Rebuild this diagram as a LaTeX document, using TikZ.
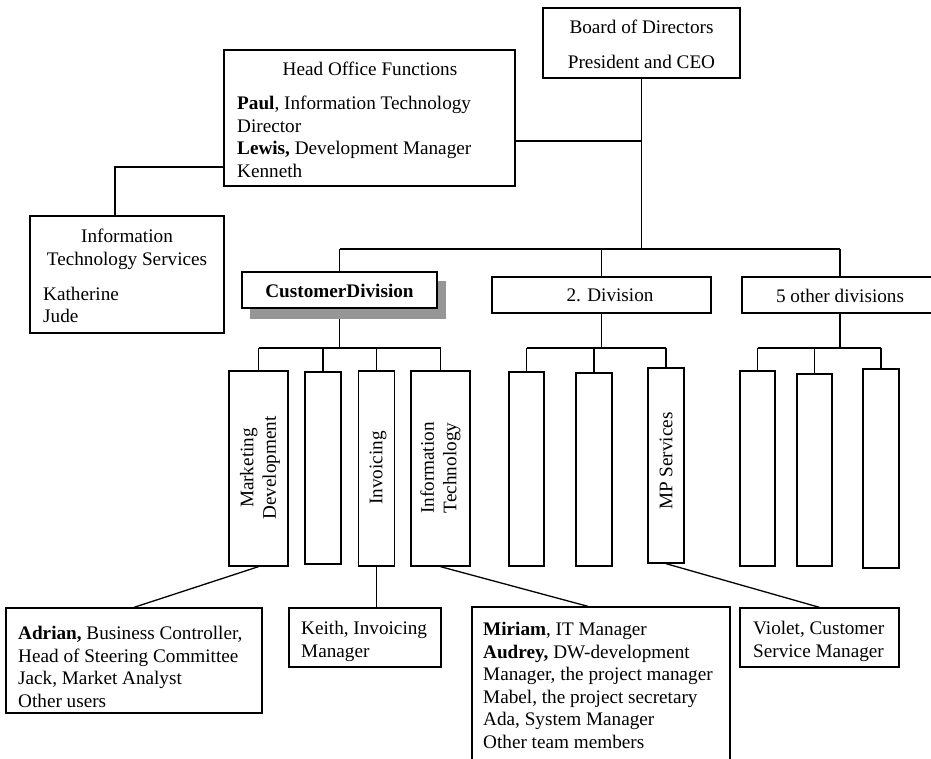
\documentclass[tikz,border=0pt]{standalone}
\usepackage{fontspec}
\setmainfont{Liberation Serif}
\usetikzlibrary{backgrounds,calc}
\definecolor{shadowgray}{RGB}{150,150,150}
\begin{document}
\begin{tikzpicture}[x=1pt,y=-1pt,
  every node/.style={font=\fontsize{19.2}{22.6}\selectfont},
  box/.style={draw, line width=1.3pt, fill=white, inner sep=0pt},
  link/.style={line width=1.3pt},
  txt/.style={inner sep=0pt, anchor=north west, align=left},
  ctxt/.style={inner sep=0pt, anchor=north, align=center},
  vtxt/.style={inner sep=0pt, rotate=90, align=center},
  vbox/.style={box, minimum width=36pt, minimum height=195pt},
  wvbox/.style={box, minimum width=59pt, minimum height=195pt},
]
\clip (0,0) rectangle (931,758);

% top level
\node[box, minimum width=197pt, minimum height=70pt] (board) at (641.5,43) {};
\node[box, minimum width=291pt, minimum height=136pt] (head) at (369.5,118) {};
\node[box, minimum width=194pt, minimum height=117pt] (its) at (127,274.5) {};

% divisions
\node[fill=shadowgray, inner sep=0pt, minimum width=196pt, minimum height=38pt] (cdshadow) at (348,300) {};
\node[box, minimum width=195pt, minimum height=36pt] (cd) at (339.5,290) {};
\node[box, minimum width=219pt, minimum height=36pt] (div2) at (601.5,295) {};
\node[box, minimum width=196pt, minimum height=36pt] (div5) at (840,295) {};

% departments of the customer division
\node[wvbox] (mkt) at (258.5,468.5) {};
\node[vbox, minimum height=192pt] (cdb) at (323,468) {};
\node[vbox] (inv) at (376.5,468.5) {};
\node[wvbox] (itb) at (440.5,468.5) {};

% departments of division 2
\node[vbox, minimum width=35pt, minimum height=194pt] (d2a) at (526.5,469) {};
\node[vbox, minimum height=193pt] (d2b) at (594,469.5) {};
\node[vbox] (mp) at (666,465.5) {};

% departments of the other divisions
\node[vbox, minimum width=35pt] (d5a) at (757.5,468.5) {};
\node[vbox, minimum width=35pt, minimum height=192pt] (d5b) at (814.5,470) {};
\node[vbox, minimum height=199pt] (d5c) at (881,468.5) {};

% people
\node[box, minimum width=256pt, minimum height=105pt] (adrian) at (134,660.5) {};
\node[box, minimum width=152pt, minimum height=59pt] (keith) at (365,637.5) {};
\node[box, minimum width=258pt, minimum height=175pt] (miriam) at (601,694.5) {};
\node[box, minimum width=159pt, minimum height=59pt] (violet) at (819.5,637.5) {};

% connectors
\begin{scope}[on background layer]
  \coordinate (hj) at (0,141);
  \coordinate (ij) at (115,167);
  \coordinate (bus) at (0,249);
  \coordinate (sub) at (0,348);
  \draw[link] (board.south) -- (board.south |- bus);
  \draw[link] (head.east |- hj) -- (board.south |- hj);
  \draw[link] (head.west |- ij) -- (ij) -- (ij |- its.north);
  \draw[link] (cd.north |- bus) -- (div5.north |- bus);
  \foreach \n in {cd,div2,div5}
    \draw[link] (\n.north) -- (\n.north |- bus);
  \draw[link] (cd.south) -- (cd.south |- sub);
  \draw[link] (div2.south) -- (div2.south |- sub);
  \draw[link] (div5.south) -- (div5.south |- sub);
  \draw[link] (mkt.north |- sub) -- (itb.north |- sub);
  \draw[link] (d2a.north |- sub) -- (mp.north |- sub);
  \draw[link] (d5a.north |- sub) -- (d5c.north |- sub);
  \foreach \n in {mkt,cdb,inv,itb,d2a,d2b,mp,d5a,d5b,d5c}
    \draw[link] (\n.north) -- (\n.north |- sub);
  \draw[link] (mkt.south) -- (adrian.north);
  \draw[link] (inv.south) -- (inv.south |- keith.north);
  \draw[link] (itb.south) -- ($(miriam.north)+(-13,0)$);
  \draw[link] (mp.south) -- (violet.north);
\end{scope}

% texts
\node[ctxt] (boardtxt) at (641.5,19.8) {Board of Directors\\[12.4pt]President and CEO};
\node[ctxt] (headtitle) at (370,61.8) {Head Office Functions};
\node[txt] (headbody) at (237,95.8) {\textbf{Paul}, Information Technology\\Director\\\textbf{Lewis,} Development Manager\\Kenneth};
\node[ctxt] (itstitle) at (127,228.8) {Information\\Technology Services};
\node[txt] (itsbody) at (43,286.8) {Katherine\\Jude};

\node (cdtxt) at (339.5,290.5) {\textbf{CustomerDivision}};
\node (div2txt) at (610,295.5) {2. Division};
\node (div5txt) at (840,295.5) {5 other divisions};

\node[vtxt] (mkttxt) at (260,468) {Marketing\\Development};
\node[vtxt] (invtxt) at (378,468) {Invoicing};
\node[vtxt] (itbtxt) at (440.5,468) {Information\\Technology};
\node[vtxt] (mptxt) at (666,461) {MP Services};

\node[txt] (adriantxt) at (18,625.9) {\textbf{Adrian,} Business Controller,\\Head of Steering Committee\\Jack, Market Analyst\\Other users};
\node[txt] (keithtxt) at (301,620.9) {Keith, Invoicing\\Manager};
\node[txt] (miriamtxt) at (483,621.9) {\textbf{Miriam}, IT Manager\\\textbf{Audrey,} DW-development\\Manager, the project manager\\Mabel, the project secretary\\Ada, System Manager\\Other team members};
\node[txt] (violettxt) at (753,620.9) {Violet, Customer\\Service Manager};
\end{tikzpicture}
\end{document}
